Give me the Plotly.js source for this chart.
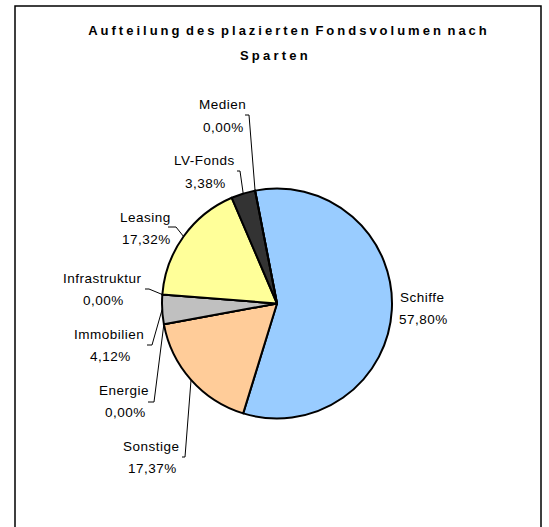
<!DOCTYPE html>
<html>
<head>
<meta charset="utf-8">
<script src="https://cdn.plot.ly/plotly-3.0.1.min.js"></script>
<style>
  html, body { margin: 0; padding: 0; background: #fff; }
  #chart { width: 549px; height: 527px; }
  .gtitle { letter-spacing: 3px; word-spacing: -3px; }
  .annotation-text { letter-spacing: 0.5px; }
</style>
</head>
<body>
<div id="chart"></div>
<script>
// ---- data ----
const titleLine1 = 'Aufteilung des plazierten Fondsvolumen nach';
const titleLine2 = 'Sparten';
const labels = ['Schiffe', 'Sonstige', 'Energie', 'Immobilien', 'Infrastruktur', 'Leasing', 'LV-Fonds', 'Medien'];
const values = [57.80, 17.37, 0.00, 4.12, 0.00, 17.32, 3.38, 0.00];
const colors = ['#99CCFF', '#FFCC99', '#FFFFFF', '#C0C0C0', '#FFFFFF', '#FFFF99', '#333333', '#FFFFFF'];

// ---- layout / style (pixels) ----
const W = 549, H = 527;
const CX = 277, CY = 303.5, R = 115;     // pie centre & radius
const ROT = -11;                          // start angle of first slice
// label block centre x, first-line centre y
const labelPos = [[422, 297], [151, 446], [124, 390], [109, 334], [102, 278], [145, 217], [204, 161], [222, 105]];
const LINE_GAP = 22.5;
// leader: [x start, y, x elbow]
const leaderStart = [null, [182, 457, 185], [148, 402, 154], [147, 345, 152], [145, 289, 149], [168, 227, 176], [237, 171, 240], [245, 115, 249]];

const px = x => x / W;
const py = y => 1 - y / H;
const fmt = v => v.toFixed(2).replace('.', ',') + '%';
const FONT = 'Liberation Sans, Arial, sans-serif';

const total = values.reduce((a, b) => a + b, 0);
let cum = 0;
const shapes = [];
const annotations = [];
values.forEach((v, i) => {
  const midFrac = (cum + v / 2) / total;
  cum += v;
  const ang = (ROT + midFrac * 360) * Math.PI / 180;
  const ax = CX + R * Math.sin(ang);
  const ay = CY - R * Math.cos(ang);
  const [lx, ly] = labelPos[i];
  annotations.push({xref: 'paper', yref: 'paper', x: px(lx), y: py(ly), text: labels[i],
    showarrow: false, xanchor: 'center', yanchor: 'middle', font: {family: FONT, size: 13.5, color: '#000'}});
  annotations.push({xref: 'paper', yref: 'paper', x: px(lx + 1), y: py(ly + LINE_GAP), text: fmt(v),
    showarrow: false, xanchor: 'center', yanchor: 'middle', font: {family: FONT, size: 13.5, color: '#000'}});
  const ls = leaderStart[i];
  if (ls) {
    shapes.push({type: 'path', xref: 'paper', yref: 'paper',
      path: `M ${px(ls[0])} ${py(ls[1])} L ${px(ls[2])} ${py(ls[1])} L ${px(ax)} ${py(ay)}`,
      line: {color: '#000', width: 1}});
  }
});

// outer chart border
shapes.push({type: 'rect', xref: 'paper', yref: 'paper', x0: px(15), x1: px(541), y0: py(532), y1: py(6),
  line: {color: '#000', width: 1.5}, fillcolor: 'rgba(0,0,0,0)', layer: 'below'});

annotations.push({xref: 'paper', yref: 'paper', x: px(275), y: py(55),
  text: '<span style="letter-spacing:3.2px"><b>' + titleLine2 + '</b></span>',
  showarrow: false, xanchor: 'center', yanchor: 'middle', font: {family: FONT, size: 13, color: '#000'}});

const trace = {
  type: 'pie',
  labels: labels,
  values: values,
  sort: false,
  direction: 'clockwise',
  rotation: ROT,
  textinfo: 'none',
  hoverinfo: 'label+percent',
  showlegend: false,
  marker: {colors: colors, line: {color: '#000', width: 2}},
  domain: {x: [px(CX - R), px(CX + R)], y: [py(CY + R), py(CY - R)]}
};

const layout = {
  width: W, height: H,
  margin: {l: 0, r: 0, t: 0, b: 0},
  paper_bgcolor: '#fff',
  title: {text: '<b>' + titleLine1 + '</b>', x: px(289), xanchor: 'center', xref: 'container',
    y: py(30), yanchor: 'middle', yref: 'container', font: {family: FONT, size: 13, color: '#000'}},
  shapes: shapes,
  annotations: annotations,
  showlegend: false
};

Plotly.newPlot('chart', [trace], layout, {displayModeBar: false, staticPlot: true});
</script>
</body>
</html>
